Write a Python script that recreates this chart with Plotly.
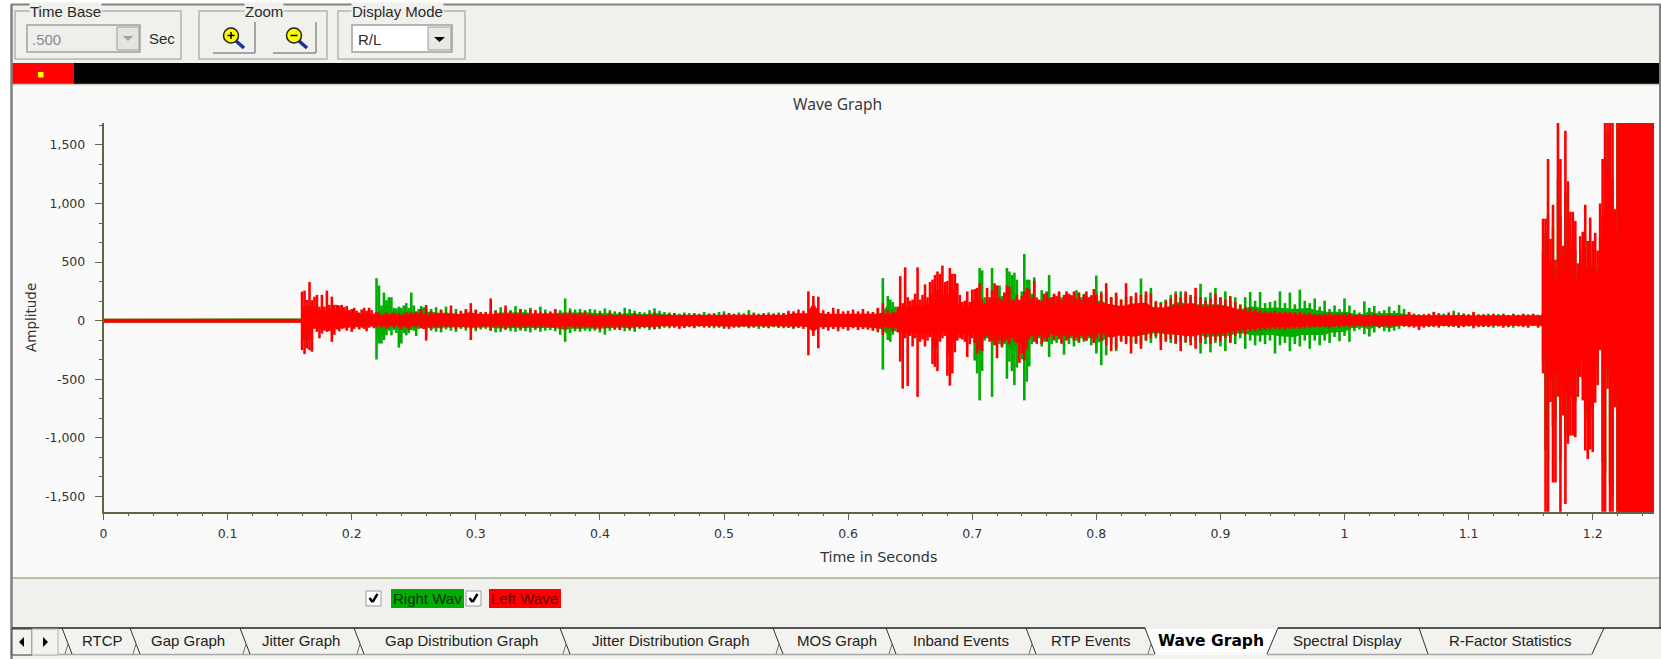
import plotly.graph_objects as go

W, H = 1661, 659
X_L, X_R, Y_T, Y_B = 103.5, 1654.0, 123.0, 511.7

# ---- waveform data: envelope peaks ----
# section: (start second, sample step)
BASE_T = [0.0, 0.16]
BASE_UP = [10, 10]
BASE_LOW = [-10, -10]
STEPS = [(0.160, 0.002), (0.260, 0.004), (0.392, 0.004), (0.632, 0.002),
         (0.800, 0.004), (0.988, 0.004), (1.160, 0.002)]

LEFT_UP_A = [248,257,177,330,175,205,220,120,220,120,257,135,205,135,135,130,135,115,125,90,100,110,85,70,95,110,85,110,90,60,75,70,50,60,70,55,60,70,55,65,50,60,75,55,70,60,80,65,100,55]
LEFT_LOW_A = [-251,-285,-237,-251,-265,-70,-95,-150,-110,-85,-95,-90,-180,-120,-75,-90,-70,-65,-85,-60,-95,-70,-55,-75,-60,-70,-90,-60,-50,-65,-55,-45,-60,-50,-70,-55,-45,-60,-40,-55,-70,-50,-60,-80,-55,-45,-60,-50,-65,-70]
RIGHT_UP_A = [15,18,14,16,20,15,14,18,16,15,14,17,15,18,14,16,15,14,18,15,16,14,17,15,14,18,15,16,14,15,363,300,130,240,175,200,200,110,105,120,110,130,150,110,240,130,70,100,125,115]
RIGHT_LOW_A = [-15,-18,-14,-16,-20,-15,-14,-18,-16,-15,-14,-17,-15,-18,-14,-16,-15,-14,-18,-15,-16,-14,-17,-15,-14,-18,-15,-16,-14,-15,-331,-195,-195,-165,-125,-85,-125,-80,-105,-230,-195,-105,-125,-105,-80,-85,-130,-70,-60,-70]

LEFT_UP_B = [134,80,70,95,70,130,70,85,100,150,95,70,75,190,85,70,130,80,70,100,65,95,90,75,70,75,95,65,70,85,65,70,80]
LEFT_LOW_B = [-170,-70,-60,-70,-55,-60,-75,-60,-65,-165,-70,-60,-55,-85,-60,-65,-70,-60,-55,-70,-60,-55,-65,-60,-55,-60,-65,-70,-75,-55,-65,-70,-60]
RIGHT_UP_B = [110,100,115,90,120,85,100,70,85,80,90,75,70,80,90,115,100,90,125,100,95,110,85,120,95,80,100,90,190,105,95,100,90]
RIGHT_LOW_B = [-90,-85,-95,-100,-75,-85,-95,-70,-85,-80,-90,-75,-70,-85,-100,-95,-80,-90,-95,-85,-90,-100,-80,-95,-85,-80,-90,-120,-180,-105,-90,-95,-85]

LEFT_UP_C = [60,55,65,50,70,50,65,60,50,65,55,50,60,70,55,50,60,65,50,55,50,60,55,50,60,55,50,60,65,55,55,60,55,60,50,60,55,60,55,65,85,80,95,85,250,210,205,90,75,110,100,80,85,95,80,100,80,75,110,150]
LEFT_LOW_C = [-60,-70,-75,-65,-60,-70,-80,-60,-70,-65,-60,-55,-60,-70,-65,-50,-55,-60,-70,-60,-55,-60,-50,-55,-60,-50,-55,-60,-70,-60,-55,-50,-60,-55,-50,-55,-60,-50,-60,-55,-60,-65,-60,-70,-295,-130,-235,-70,-85,-70,-90,-70,-85,-65,-80,-70,-75,-85,-90,-120]
RIGHT_UP_C = [100,95,85,105,90,80,75,110,100,85,75,70,90,105,85,75,70,65,60,70,65,65,60,75,60,65,75,80,65,60,70,60,90,70,60,65,70,60,70,65,70,60,65,60,50,50,60,55,60,50,55,60,55,65,60,70,60,65,100,363]
RIGHT_LOW_C = [-90,-85,-100,-120,-85,-80,-75,-90,-85,-95,-70,-65,-80,-75,-70,-60,-65,-55,-60,-60,-55,-65,-50,-60,-55,-65,-60,-70,-60,-55,-60,-55,-65,-60,-70,-60,-65,-55,-60,-65,-60,-70,-60,-55,-50,-50,-60,-70,-60,-70,-65,-60,-70,-60,-65,-70,-75,-85,-100,-417]

LEFT_UP_D = [90,60,75,70,120,380,150,455,200,170,180,230,455,180,220,310,200,330,350,390,420,400,470,330,340,450,400,400,320,220,160,170,250,160,265,270,280,320,180,150,280,200,260,320,300,200,180,240,300,290,180,170,220,180,210,250,280,270,200,340,190,180,170,230,240,190,200,230,210,250,180,220,250,230,210,250,190,240,180,220,250,200,210,270,200]
LEFT_LOW_D = [-70,-60,-90,-65,-100,-350,-580,-150,-557,-130,-220,-150,-650,-180,-160,-220,-170,-140,-370,-394,-430,-180,-150,-130,-470,-555,-450,-270,-170,-150,-160,-180,-310,-200,-150,-190,-280,-250,-260,-150,-130,-180,-170,-210,-320,-170,-220,-180,-160,-200,-150,-180,-190,-360,-280,-340,-240,-160,-130,-180,-190,-130,-200,-150,-180,-140,-120,-160,-130,-150,-190,-130,-170,-150,-130,-170,-140,-180,-130,-160,-170,-130,-150,-190,-130]
RIGHT_UP_D = [210,180,160,120,100,130,120,140,110,130,120,140,110,130,120,140,130,120,110,140,130,120,150,130,120,140,130,110,120,130,110,120,130,120,110,130,250,450,430,200,150,180,450,200,300,300,210,240,450,420,390,410,350,150,250,570,350,350,230,370,200,170,260,200,250,390,200,220,180,240,200,180,230,190,220,210,260,240,200,230,210,190,220,200,240]
RIGHT_LOW_D = [-165,-180,-120,-90,-80,-100,-90,-110,-80,-100,-90,-110,-100,-90,-110,-100,-90,-110,-100,-120,-110,-90,-100,-110,-90,-120,-100,-110,-90,-100,-110,-100,-120,-110,-130,-340,-450,-680,-430,-170,-150,-150,-650,-200,-180,-200,-230,-200,-495,-350,-430,-550,-400,-200,-330,-680,-520,-390,-200,-170,-200,-150,-220,-180,-170,-310,-200,-170,-190,-160,-200,-290,-160,-200,-150,-220,-170,-190,-150,-180,-170,-150,-210,-160,-280]

LEFT_UP_E = [220,230,320,200,240,180,320,210,240,220,250,230,160,150,170,190,230,200,250,220,280,200,170,190,230,200,180,210,160,130,120,110,100,90,85,80,85,75,80,75,70,75,65,70,60,55,60]
LEFT_LOW_E = [-150,-170,-210,-260,-240,-180,-200,-280,-190,-240,-170,-150,-130,-250,-180,-160,-190,-260,-180,-210,-240,-190,-150,-200,-170,-180,-150,-190,-130,-110,-120,-95,-90,-85,-80,-75,-70,-75,-80,-70,-65,-70,-65,-60,-55,-60,-55]
RIGHT_UP_E = [385,250,250,200,210,180,200,200,190,360,220,280,170,160,180,220,250,250,230,200,210,315,200,240,280,200,250,170,200,140,200,245,170,245,150,160,170,250,150,240,140,265,170,150,190,120,170]
RIGHT_LOW_E = [-265,-380,-295,-200,-260,-170,-180,-190,-200,-210,-170,-190,-150,-180,-160,-190,-200,-170,-190,-180,-170,-280,-200,-270,-190,-220,-260,-180,-200,-150,-240,-170,-210,-180,-200,-170,-280,-210,-190,-260,-200,-220,-170,-240,-170,-210,-170]

LEFT_UP_F = [70,55,60,65,60,50,55,50,55,60,45,50,55,45,50,55,75,55,50,55,60,75,55,50,70,55,50,60,50,75,50,55,45,60,50,55,45,55,50,60,50,55,50,55]
LEFT_LOW_F = [-65,-55,-60,-50,-55,-60,-45,-55,-50,-45,-60,-50,-55,-50,-45,-50,-55,-60,-80,-60,-55,-50,-60,-45,-55,-50,-60,-55,-45,-65,-55,-50,-55,-45,-50,-60,-55,-45,-50,-55,-60,-45,-55,-50]
RIGHT_UP_F = [100,130,100,190,130,90,70,165,110,125,80,90,120,85,135,100,70,60,55,50,55,75,65,60,55,85,70,60,55,65,55,50,60,50,55,60,50,60,50,55,55,60,50,60]
RIGHT_LOW_F = [-190,-140,-175,-130,-180,-90,-75,-115,-135,-100,-65,-90,-95,-85,-70,-50,-55,-45,-50,-45,-50,-55,-45,-50,-45,-55,-60,-45,-50,-55,-45,-55,-50,-60,-45,-50,-55,-60,-45,-50,-55,-45,-60,-50]

LEFT_UP_G = [870,870,1380,700,990,520,1750,1380,640,1620,1190,930,930,850,490,720,760,990,680,880,680,750,600,1000,1380,2200,2400,2000,1900,950,2800,2900,2700,2600,2900,2800,3000,2700,2900,2800,2600,3000,2700,2800,2900,3000]
LEFT_LOW_G = [-450,-1800,-1800,-694,-1380,-1380,-650,-1800,-808,-1565,-1050,-980,-980,-994,-650,-480,-680,-1108,-1180,-1100,-1120,-700,-551,-251,-1800,-1900,-580,-2000,-2200,-740,-2600,-2900,-2700,-2800,-2600,-3000,-2700,-2900,-2800,-2600,-2900,-2700,-3000,-2800,-2600,-2900]
RIGHT_UP_G = [600,750,900,500,800,450,1200,900,500,1100,800,700,650,600,400,550,600,700,500,600,500,550,450,700,900,1400,1600,1300,1200,700,1900,2000,1800,1700,1900,1800,2000,1700,1900,1800,1700,2000,1800,1900,1800,2000]
RIGHT_LOW_G = [-350,-1100,-1200,-500,-900,-850,-450,-1200,-550,-1000,-700,-650,-650,-700,-450,-350,-500,-800,-850,-750,-800,-500,-400,-200,-1200,-1300,-450,-1400,-1500,-550,-1800,-1900,-1800,-1900,-1700,-2000,-1800,-1900,-1800,-1700,-1900,-1800,-2000,-1900,-1700,-1900]

RIGHT_UP = [RIGHT_UP_A, RIGHT_UP_B, RIGHT_UP_C, RIGHT_UP_D, RIGHT_UP_E, RIGHT_UP_F, RIGHT_UP_G]
RIGHT_LOW = [RIGHT_LOW_A, RIGHT_LOW_B, RIGHT_LOW_C, RIGHT_LOW_D, RIGHT_LOW_E, RIGHT_LOW_F, RIGHT_LOW_G]
LEFT_UP = [LEFT_UP_A, LEFT_UP_B, LEFT_UP_C, LEFT_UP_D, LEFT_UP_E, LEFT_UP_F, LEFT_UP_G]
LEFT_LOW = [LEFT_LOW_A, LEFT_LOW_B, LEFT_LOW_C, LEFT_LOW_D, LEFT_LOW_E, LEFT_LOW_F, LEFT_LOW_G]

X_TICKS = [0, 0.1, 0.2, 0.3, 0.4, 0.5, 0.6, 0.7, 0.8, 0.9, 1, 1.1, 1.2]
X_LABELS = ["0", "0.1", "0.2", "0.3", "0.4", "0.5", "0.6", "0.7", "0.8", "0.9", "1", "1.1", "1.2"]
Y_TICKS = [-1500, -1000, -500, 0, 500, 1000, 1500]
Y_LABELS = ["-1,500", "-1,000", "-500", "0", "500", "1,000", "1,500"]
TAB_NAMES = ["RTCP", "Gap Graph", "Jitter Graph", "Gap Distribution Graph", "Jitter Distribution Graph", "MOS Graph",
             "Inband Events", "RTP Events", "Wave Graph", "Spectral Display", "R-Factor Statistics"]
TAB_CENTRES = [102, 188, 301, 462, 671, 837, 961, 1090, 1211, 1347, 1510]
TAB_EDGES = [62, 130, 240, 354, 560, 773, 886, 1026, 1145]


def series(parts, base):
    xs, ys = list(BASE_T), list(base)
    for (start, step), arr in zip(STEPS, parts):
        xs += [start + i * step for i in range(len(arr))]
        ys += arr
    return xs, ys


def wave(ups, lows):
    """Solid body of the waveform plus one vertical stroke per sample."""
    ux, uy = series(ups, BASE_UP)
    lx, ly = series(lows, BASE_LOW)
    n = len(uy)
    m = len(ly)
    body_up = [0.65 * min(uy[max(0, i - 1):i + 2]) for i in range(n)]
    body_low = [0.65 * max(ly[max(0, i - 1):i + 2]) for i in range(m)]
    xs = ux + lx[::-1] + [None]
    ys = body_up + body_low[::-1] + [None]
    for t, a, b in zip(ux, uy, ly):
        xs += [t, t, None]
        ys += [a, b, None]
    return xs, ys


def px(v):
    return v / W


def py(v):
    return 1 - v / H


fig = go.Figure()
for name, ups, lows, colour in [("Right Wave", RIGHT_UP, RIGHT_LOW, "#00ad00"), ("Left Wave", LEFT_UP, LEFT_LOW, "#ff0000")]:
    x, y = wave(ups, lows)
    fig.add_trace(go.Scatter(x=x, y=y, name=name, mode="lines", fill="toself", fillcolor=colour,
                             line=dict(color=colour, width=2.6), hoverinfo="skip", showlegend=False))

shapes = []
notes = []


def rect(x0, y0, x1, y1, fill=None, line=None, width=1):
    shapes.append(dict(type="rect", xref="paper", yref="paper", x0=px(x0), x1=px(x1), y0=py(y0), y1=py(y1),
                       fillcolor=fill or "rgba(0,0,0,0)", line=dict(color=line or "rgba(0,0,0,0)", width=width if line else 0), layer="above"))


def seg(x0, y0, x1, y1, colour, width=1):
    shapes.append(dict(type="line", xref="paper", yref="paper", x0=px(x0), x1=px(x1), y0=py(y0), y1=py(y1),
                       line=dict(color=colour, width=width), layer="above"))


def poly(points, fill):
    path = "M " + " L ".join(f"{px(a):.5f},{py(b):.5f}" for a, b in points) + " Z"
    shapes.append(dict(type="path", xref="paper", yref="paper", path=path, fillcolor=fill, line=dict(width=0), layer="above"))


def circle(cx, cy, r, fill, line):
    shapes.append(dict(type="circle", xref="paper", yref="paper", x0=px(cx - r), x1=px(cx + r), y0=py(cy - r), y1=py(cy + r),
                       fillcolor=fill, line=dict(color=line, width=1.5), layer="above"))


def note(text, x, y, size=15, colour="#2a2a2a", anchor="center", family="Liberation Sans", bg=None, weight=None):
    label = f"<b>{text}</b>" if weight else text
    notes.append(dict(text=label, x=px(x), y=py(y), xref="paper", yref="paper", xanchor=anchor, yanchor="middle", showarrow=False,
                      font=dict(size=size, color=colour, family=family), bgcolor=bg, borderpad=0))


PANEL = "#f0f0ec"
GROUP = "#b4b4b0"
# page margin, window frame and panels
rect(0, 0, 11, H, fill="#ffffff")
rect(0, 0, W, 4, fill="#ffffff")
rect(11, 4, W, 63, fill=PANEL)
rect(11, 578, W, 628, fill=PANEL)
rect(11, 628, W, H, fill="#f2f2ee")
rect(11, 63, W, 84, fill="#000000")
rect(12, 63, 74, 84, fill="#ff0000")
rect(38, 72, 43.5, 77.5, fill="#ffff00")
seg(11, 84.5, W, 84.5, "#c8ccb8", 1.5)
seg(11, 578, W, 578, "#9fb08a", 1.5)
seg(11, 4.5, W, 4.5, "#808080", 2)
seg(11.5, 4, 11.5, H, "#808080", 2.5)
seg(1660, 4, 1660, 628, "#808080", 2)

# group boxes
for x0, x1 in [(15, 181), (199, 327), (338, 465)]:
    rect(x0, 11, x1, 59, line=GROUP, width=1.5)
note("Time Base", 65, 12, 15, bg=PANEL)
note("Zoom", 263.5, 12, 15, bg=PANEL)
note("Display Mode", 397, 12, 15, bg=PANEL)

# combos
rect(27, 25, 140, 52, fill="#eeeeea", line="#a0a0a0", width=1.5)
rect(117, 27, 139, 50, fill="#e4e4e0", line="#9a9a9a", width=1)
poly([(123, 36), (133, 36), (128, 41)], "#a0a0a0")
note(".500", 31, 39, 15, "#8a8a8a", "left")
note("Sec", 148, 38, 15, anchor="left")
rect(352, 25, 452, 52, fill="#ffffff", line="#a0a0a0", width=1.5)
rect(428, 27, 451, 50, fill="#e8e8e4", line="#9a9a9a", width=1)
poly([(434, 37), (445, 37), (439.5, 42)], "#000000")
note("R/L", 357, 39, 15, anchor="left")

# zoom buttons
for x0, x1, cx, sign in [(213, 255, 231, "+"), (273, 316, 294, "-")]:
    seg(x0, 53, x1, 53, "#8c8c8c", 1.5)
    seg(x1, 22, x1, 53, "#8c8c8c", 1.5)
    seg(cx + 5, 41, cx + 13, 48, "#1c2f9c", 3.5)
    circle(cx, 35.5, 7.5, "#ffff00", "#202020")
    seg(cx - 3.5, 35.5, cx + 3.5, 35.5, "#000000", 1.5)
    if sign == "+":
        seg(cx, 32, cx, 39, "#000000", 1.5)

# legend row
rect(391, 589, 464, 608, fill="#00ad00")
rect(489, 589, 561, 608, fill="#ff0000")
note("Right Wav", 392, 598.5, 15, "#063006", "left")
note("Left Wave", 490, 598.5, 15, "#5a0000", "left")
for x0 in (366, 466):
    rect(x0, 591, x0 + 15, 606, fill="#ffffff", line="#9a9a9a", width=1)
    seg(x0 + 3.5, 598, x0 + 6.5, 602, "#000000", 2.5)
    seg(x0 + 6.5, 602, x0 + 11.5, 594, "#000000", 2.5)

# tab strip
poly([(1145, 629), (1278, 629), (1267, 654), (1155, 654)], "#ffffff")
seg(12, 628, 1145, 628, "#202020", 1.5)
seg(1278, 628, W, 628, "#202020", 1.5)
seg(12, 654.5, 1592, 654.5, "#a8a8a8", 1.5)
seg(1155, 654.5, 1267, 654.5, "#ffffff", 2)
for edge in TAB_EDGES:
    seg(edge, 628, edge + 10, 654, "#303030", 1)
    seg(edge + 6, 644, edge + 3, 654, "#707070", 1)
seg(1278, 628, 1267, 654, "#303030", 1)
seg(1419, 628, 1428, 654, "#303030", 1)
seg(1604, 628, 1592, 654, "#303030", 1)
rect(12, 629, 32, 655, fill="#f2f2ee", line="#404040", width=1)
rect(32, 629, 58, 655, fill="#f2f2ee", line="#b0b0b0", width=1)
poly([(24, 637), (24, 647), (19, 642)], "#000000")
poly([(43, 637), (43, 647), (48, 642)], "#000000")
for name, centre in zip(TAB_NAMES, TAB_CENTRES):
    if name == "Wave Graph":
        note(name, centre, 640.5, 15.5, "#000000", family="DejaVu Sans", weight=True)
    else:
        note(name, centre, 640.5, 15, "#222222")

note("Wave Graph", 837.5, 104, 15.6, "#3a3a3a", family="Noto Sans")

AXIS = "#5c6844"
fig.update_layout(
    width=W, height=H, margin=dict(l=0, r=0, t=0, b=0, autoexpand=False),
    paper_bgcolor="#fafafa", plot_bgcolor="rgba(0,0,0,0)",
    font=dict(family="DejaVu Sans", size=12.5, color="#333333"),
    showlegend=False, shapes=shapes, annotations=notes,
    xaxis=dict(domain=[px(X_L), px(X_R)], range=[0, 1.2494], tickmode="array", tickvals=X_TICKS, ticktext=X_LABELS,
               showgrid=False, zeroline=False, showline=True, linecolor=AXIS, linewidth=1.5, ticks="outside", ticklen=7,
               tickcolor=AXIS, tickwidth=1, ticklabelstandoff=3,
               minor=dict(ticks="outside", ticklen=3, dtick=0.02, tick0=0, tickcolor=AXIS, showgrid=False),
               title=dict(text="Time in Seconds", standoff=12, font=dict(size=14.3, color="#333333"))),
    yaxis=dict(domain=[py(Y_B), py(Y_T)], range=[-1630, 1687], tickmode="array", tickvals=Y_TICKS, ticktext=Y_LABELS,
               showgrid=False, zeroline=False, showline=True, linecolor=AXIS, linewidth=1.5, ticks="outside", ticklen=7,
               tickcolor=AXIS, tickwidth=1, ticklabelstandoff=7,
               minor=dict(ticks="outside", ticklen=3, dtick=500 / 3, tick0=0, tickcolor=AXIS, showgrid=False),
               title=dict(text="Amplitude", standoff=5, font=dict(size=13.5, color="#333333"))),
)
fig.write_html("out.html", config=dict(displayModeBar=False),
               post_script="document.body.style.margin='0';document.documentElement.style.background='#ffffff';")
